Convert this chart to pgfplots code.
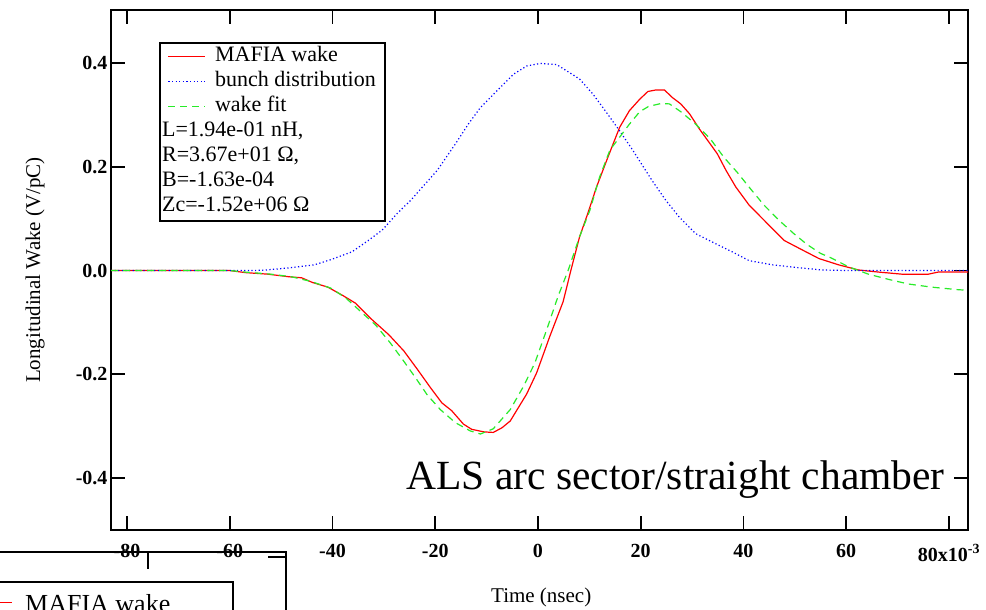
\documentclass[border=0pt]{standalone}
\usepackage{fontspec}
\setmainfont{Liberation Serif}
\usepackage{pgfplots}
\pgfplotsset{compat=1.18}
\definecolor{wkred}{RGB}{255,0,0}
\definecolor{wkblue}{RGB}{0,0,255}
\definecolor{wkgreen}{RGB}{40,235,40}
\begin{document}
\begin{tikzpicture}
\path[use as bounding box] (0bp,0bp) rectangle (986bp,610bp);
\begin{axis}[
  at={(111bp,80bp)}, anchor=south west,
  scale only axis, width=857bp, height=520bp,
  xmin=-83.1, xmax=83.7, ymin=-0.5, ymax=0.502,
  axis line style={line width=1.8bp},
  xtick={-80,-60,...,80},
  xticklabels={-80,-60,-40,-20,0,20,40,60,{80x10\textsuperscript{-3}}},
  ytick={-0.4,-0.2,0,0.2,0.4},
  yticklabels={-0.4,-0.2,0.0,0.2,0.4},
  tick align=inside, xtick pos=both, ytick pos=both, ticklabel pos=left,
  major tick length=14bp,
  major tick style={line width=1.8bp, black},
  tick label style={font=\fontsize{20bp}{24bp}\selectfont\bfseries},
  xticklabel style={yshift=-11bp},
  label style={font=\fontsize{21bp}{25bp}\selectfont},
  xlabel={Time (nsec)},
  ylabel={Longitudinal Wake (V/pC)},
  xlabel style={at={(axis description cs:0.502,-0.129)}, anchor=center},
  ylabel style={at={(axis description cs:-0.0887,0.5)}, anchor=center},
  legend style={at={(0.056,0.939)}, anchor=north west, draw=black, line width=1.8bp,
    fill=white, font=\fontsize{22bp}{25bp}\selectfont, inner xsep=8bp, inner ysep=3bp,
    nodes={inner sep=1bp, text height=15bp, text depth=5bp}, row sep=3bp},
  legend cell align=left,
  legend image code/.code={\draw[#1] (0bp,0bp) -- (37bp,0bp); \path (45bp,0bp);},
]
\addplot[wkred, line width=1.2bp] table {
-83.1 0
-60 0
-57 -0.004
-52.6 -0.007
-48.5 -0.012
-46 -0.014
-43.9 -0.023
-40.9 -0.032
-38 -0.048
-35.5 -0.063
-32.6 -0.092
-29 -0.124
-26.1 -0.155
-23.5 -0.190
-20.9 -0.226
-18.7 -0.255
-16.8 -0.270
-14.5 -0.296
-12.9 -0.306
-10.5 -0.311
-8.7 -0.312
-7 -0.303
-5.4 -0.290
-2.2 -0.238
-0.25 -0.197
2.3 -0.127
4.9 -0.060
6.4 0.000
8.1 0.065
9.7 0.110
11.4 0.161
13.6 0.218
15.9 0.276
17.8 0.308
19.8 0.330
21.4 0.345
23.0 0.348
24.6 0.348
26.2 0.333
27.8 0.321
29.5 0.302
31.4 0.273
33.3 0.247
34.9 0.225
36.6 0.193
38.5 0.161
41.1 0.126
44.3 0.094
47.9 0.058
50.8 0.043
54.7 0.023
58.5 0.011
62.4 0.001
66.3 -0.003
70.8 -0.007
76.0 -0.007
77.9 -0.003
83.7 -0.003
};
\addlegendentry{MAFIA wake}
\addplot[wkblue, line width=1.2bp, dash pattern=on 1.2bp off 2.4bp] table {
-83.1 0
-55 0
-53 0.001
-48.5 0.005
-43.5 0.011
-40.3 0.021
-36.2 0.036
-33 0.058
-30.3 0.078
-27.4 0.110
-24.8 0.135
-22.2 0.164
-19.6 0.193
-16 0.245
-13.5 0.283
-11.2 0.314
-8 0.346
-4.8 0.378
-2.2 0.394
0.4 0.399
3.6 0.397
6.2 0.381
8.1 0.369
10.7 0.340
13.3 0.305
15.9 0.269
18.5 0.231
22.3 0.172
24.9 0.135
27.5 0.103
30.7 0.071
33.9 0.055
37.8 0.036
41.1 0.019
45.6 0.011
50.1 0.006
55.3 0.001
60 0
83.7 0
};
\addlegendentry{bunch distribution}
\addplot[wkgreen, line width=1.2bp, dash pattern=on 7bp off 5bp] table {
-83.1 0
-60 0
-57 -0.003
-52 -0.007
-48 -0.012
-44.2 -0.021
-40.3 -0.034
-37.4 -0.053
-34.5 -0.079
-31.6 -0.105
-28.7 -0.140
-26.1 -0.175
-23.8 -0.207
-21.6 -0.239
-19 -0.268
-16.1 -0.293
-13.2 -0.309
-11.2 -0.315
-8.7 -0.305
-5.4 -0.268
-2.8 -0.223
-0.6 -0.178
1.7 -0.114
3.9 -0.050
5.9 0.001
8.1 0.065
10.1 0.116
12.0 0.180
14.0 0.232
15.9 0.257
17.8 0.282
19.8 0.306
21.5 0.316
24.0 0.322
25.6 0.321
27.8 0.306
30.7 0.282
33.6 0.253
36.2 0.218
38.8 0.189
41.4 0.157
44.0 0.126
46.9 0.097
49.8 0.071
52.4 0.050
55 0.033
56.9 0.025
60.5 0.007
64.3 -0.007
68.2 -0.017
72.1 -0.026
76.6 -0.032
81.8 -0.037
83.7 -0.038
};
\addlegendentry{wake fit}
\addlegendimage{empty legend}
\addlegendentry{\hspace*{-53bp}L=1.94e-01 nH,}
\addlegendimage{empty legend}
\addlegendentry{\hspace*{-53bp}R=3.67e+01 Ω,}
\addlegendimage{empty legend}
\addlegendentry{\hspace*{-53bp}B=-1.63e-04}
\addlegendimage{empty legend}
\addlegendentry{\hspace*{-53bp}Zc=-1.52e+06 Ω}
\node[anchor=base east, inner sep=0pt, font=\fontsize{41.5bp}{48bp}\selectfont] at (rel axis cs:0.973,0.077) {ALS arc sector/straight chamber};
\end{axis}
\draw[line width=1.8bp] (-2bp,58.3bp) -- (286bp,58.3bp) -- (286bp,-2bp);
\draw[line width=1.8bp] (148.3bp,58.3bp) -- (148.3bp,41bp);
\draw[line width=1.8bp] (268bp,53.3bp) -- (286bp,53.3bp);
\draw[line width=1.8bp] (-2bp,27.7bp) -- (233.3bp,27.7bp) -- (233.3bp,-2bp);
\draw[wkred, line width=1.2bp] (-2bp,7.3bp) -- (12bp,7.3bp);
\node[anchor=base west, inner sep=0pt, font=\fontsize{26bp}{30bp}\selectfont] at (25bp,-2bp) {MAFIA wake};
\end{tikzpicture}
\end{document}
